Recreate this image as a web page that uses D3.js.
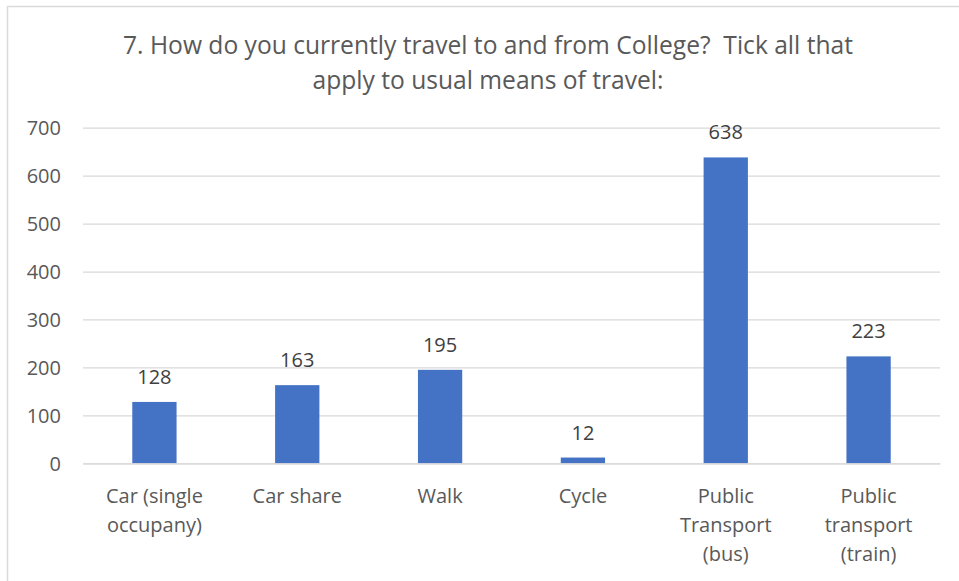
<!DOCTYPE html>
<html>
<head>
<meta charset="utf-8">
<script src="https://cdn.jsdelivr.net/npm/d3@7"></script>
<style>
  html, body { margin: 0; padding: 0; background: #fff; }
  svg { display: block; font-family: "Open Sans", "Noto Sans", sans-serif; }
  svg text { white-space: pre; }
</style>
</head>
<body>
<svg id="chart" width="959" height="581"></svg>
<script>
// Survey responses: usual means of travel to and from College
const categories = [
  ["Car (single", "occupany)"],
  ["Car share"],
  ["Walk"],
  ["Cycle"],
  ["Public", "Transport", "(bus)"],
  ["Public", "transport", "(train)"]
];
const counts = [128, 163, 195, 12, 638, 223];
const yTicks = [0, 100, 200, 300, 400, 500, 600, 700];
const titleLines = [
  "7. How do you currently travel to and from College?  Tick all that",
  "apply to usual means of travel:"
];

const svg = d3.select("#chart");
const W = 959, H = 581;
const margin = { left: 83, right: 19, top: 128, bottom: 118 };
const fontFamily = "\"Open Sans\", \"Noto Sans\", sans-serif";
const textColor = "#595959";
const gridColor = "#d9d9d9";
const barColor = "#4472C4";

// chart frame
svg.append("rect")
  .attr("x", 7.5).attr("y", 6.5)
  .attr("width", W).attr("height", H)
  .attr("fill", "none").attr("stroke", gridColor).attr("stroke-width", 1.5);

const x = d3.scaleBand()
  .domain(d3.range(categories.length))
  .range([margin.left, W - margin.right])
  .paddingInner(0.69).paddingOuter(0.345);

const y = d3.scaleLinear()
  .domain([0, 700])
  .range([H - margin.bottom + 0.3, margin.top - 0.3]);

// gridlines and value axis labels
const yAxis = d3.axisLeft(y)
  .tickValues(yTicks)
  .tickSize(-(W - margin.right - margin.left))
  .tickPadding(22)
  .tickFormat(d3.format("d"));

const gy = svg.append("g")
  .attr("transform", `translate(${margin.left},0)`)
  .call(yAxis)
  .attr("font-family", fontFamily)
  .attr("font-size", 20);
gy.select(".domain").remove();
gy.selectAll(".tick line").attr("stroke", gridColor).attr("stroke-width", 1.3);
gy.selectAll(".tick text")
  .attr("fill", textColor)
  .attr("dy", "0.36em");

// bars
svg.append("g").selectAll("rect")
  .data(counts)
  .join("rect")
  .attr("x", (d, i) => x(i))
  .attr("y", d => y(d))
  .attr("width", x.bandwidth())
  .attr("height", d => y(0) - y(d))
  .attr("fill", barColor);

// value labels
svg.append("g").selectAll("text")
  .data(counts)
  .join("text")
  .attr("x", (d, i) => x(i) + x.bandwidth() / 2)
  .attr("y", d => y(d) - 18)
  .attr("text-anchor", "middle")
  .attr("fill", "#404040")
  .style("font-size", "20px")
  .text(d => d);

// category axis
const xAxis = d3.axisBottom(x).tickSize(0).tickFormat("");
const gx = svg.append("g")
  .attr("transform", `translate(0,${y(0)})`)
  .call(xAxis)
  .attr("font-family", fontFamily)
  .attr("font-size", 20);
gx.select(".domain").attr("stroke", gridColor).attr("stroke-width", 1.3);

gx.selectAll(".tick").each(function(i) {
  const t = d3.select(this).append("text")
    .attr("text-anchor", "middle")
    .attr("fill", textColor);
  categories[i].forEach((line, k) => {
    t.append("tspan")
      .attr("x", 0)
      .attr("y", 40 + k * 29)
      .text(line);
  });
});

// title
const title = svg.append("text")
  .attr("text-anchor", "middle")
  .attr("fill", textColor)
  .style("font-size", "24.6px");
titleLines.forEach((line, k) => {
  title.append("tspan")
    .attr("x", 488)
    .attr("y", 54 + k * 35)
    .text(line);
});
</script>
</body>
</html>
